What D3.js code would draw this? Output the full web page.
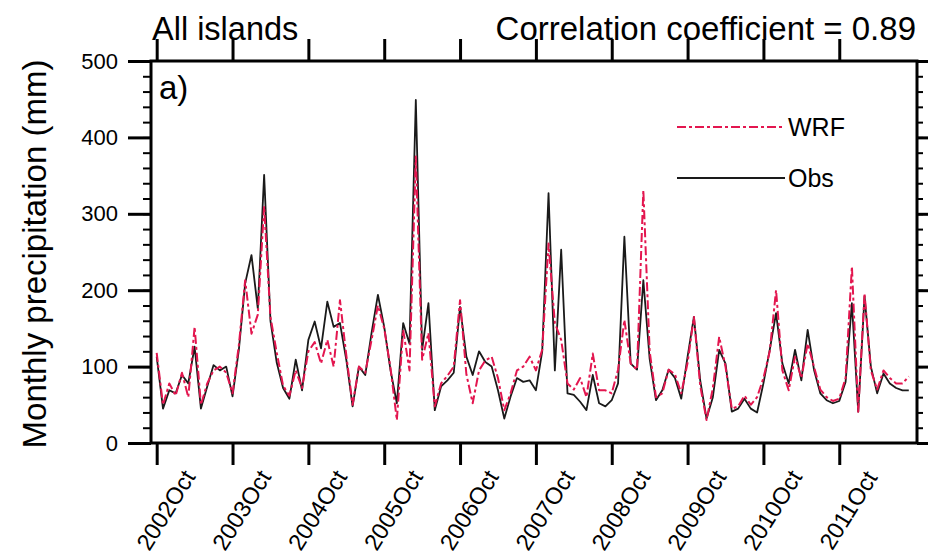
<!DOCTYPE html>
<html>
<head>
<meta charset="utf-8">
<script src="https://cdn.jsdelivr.net/npm/d3@7"></script>
<style>
  html, body { margin: 0; padding: 0; background: #fff; }
  svg { display: block; font-family: "Liberation Sans", Arial, Helvetica, sans-serif; }
</style>
</head>
<body>
<svg id="chart" width="937" height="558"></svg>
<script>
// Monthly precipitation (mm), all islands, Oct 2002 – Sep 2012
const obs = [
  113, 45, 69, 65, 89, 78, 126, 45, 74, 102, 95, 100,
  61, 122, 209, 246, 176, 351, 160, 105, 72, 58, 109, 69,
  135, 159, 124, 185, 152, 157, 109, 48, 100, 89, 144, 194,
  152, 95, 52, 157, 130, 449, 122, 183, 43, 74, 82, 92,
  178, 113, 89, 120, 106, 100, 69, 32, 61, 85, 80, 82,
  69, 120, 327, 95, 253, 65, 63, 54, 43, 89, 52, 48,
  56, 78, 270, 104, 96, 213, 110, 56, 69, 96, 85, 58,
  113, 165, 82, 32, 60, 122, 104, 41, 45, 58, 45, 40,
  78, 122, 170, 104, 78, 122, 82, 148, 96, 65, 56, 52,
  55, 80, 183, 41, 192, 100, 65, 91, 78, 72, 69, 69
];
const wrf = [
  118, 50, 78, 62, 92, 60, 152, 50, 78, 95, 100, 92,
  65, 128, 213, 143, 168, 310, 165, 118, 75, 62, 95, 72,
  120, 132, 104, 135, 100, 187, 115, 50, 100, 92, 135, 180,
  150, 98, 30, 148, 95, 375, 109, 144, 48, 78, 88, 100,
  187, 90, 52, 95, 108, 113, 85, 43, 65, 95, 100, 113,
  95, 122, 261, 157, 135, 78, 70, 85, 60, 117, 69, 69,
  65, 96, 161, 104, 96, 331, 120, 60, 65, 96, 90, 65,
  105, 165, 75, 30, 72, 139, 100, 45, 48, 62, 50, 60,
  85, 120, 200, 95, 69, 113, 85, 130, 100, 70, 60, 55,
  58, 85, 231, 41, 196, 95, 70, 95, 85, 78, 78, 87
];
// month index of each October, and its label
const xTickMonths = [0, 12, 24, 36, 48, 60, 72, 84, 96, 108];
const xTickLabels = ["2002Oct", "2003Oct", "2004Oct", "2005Oct", "2006Oct",
                     "2007Oct", "2008Oct", "2009Oct", "2010Oct", "2011Oct"];
const yMajorTicks = [0, 100, 200, 300, 400, 500];
const yMinorTicks = d3.range(0, 501, 20);
const seriesNames = ["WRF", "Obs"];
const leftTitle = "All islands";
const rightTitle = "Correlation coefficient = 0.89";
const yTitle = "Monthly precipitation (mm)";
const panelTag = "a)";

const box = { left: 151, right: 917, top: 61, bottom: 443 };
const RED = "#e3164f";

const svg = d3.select("#chart");

const x = d3.scaleLinear().domain([-0.9, 120.3]).range([box.left, box.right]);
const y = d3.scaleLinear().domain([0, 500]).range([box.bottom, box.top]);

// plot frame
svg.append("rect")
  .attr("x", box.left).attr("y", box.top)
  .attr("width", box.right - box.left).attr("height", box.bottom - box.top)
  .attr("fill", "none").attr("stroke", "#000").attr("stroke-width", 3);

function styleAxis(g, w) {
  g.select(".domain").remove();
  g.selectAll(".tick line").attr("stroke", "#000").attr("stroke-width", w);
}

// left axis: minor then major ticks with labels
svg.append("g").attr("transform", `translate(${box.left},0)`)
  .call(d3.axisLeft(y).tickValues(yMinorTicks).tickSize(8).tickFormat(""))
  .call(g => styleAxis(g, 2));
svg.append("g").attr("transform", `translate(${box.left},0)`)
  .call(d3.axisLeft(y).tickValues(yMajorTicks).tickSize(23).tickPadding(10).tickFormat(d3.format("d")))
  .call(g => styleAxis(g, 3))
  .call(g => g.selectAll("text").attr("font-size", 22).attr("fill", "#000")
    .attr("font-family", "Liberation Sans, Arial, sans-serif"));

// right axis ticks
svg.append("g").attr("transform", `translate(${box.right},0)`)
  .call(d3.axisRight(y).tickValues(yMinorTicks).tickSize(6).tickFormat(""))
  .call(g => styleAxis(g, 2));
svg.append("g").attr("transform", `translate(${box.right},0)`)
  .call(d3.axisRight(y).tickValues(yMajorTicks).tickSize(11).tickFormat(""))
  .call(g => styleAxis(g, 3));

// bottom and top axes
svg.append("g").attr("transform", `translate(0,${box.bottom})`)
  .call(d3.axisBottom(x).tickValues(xTickMonths).tickSize(22).tickFormat(""))
  .call(g => styleAxis(g, 3));
svg.append("g").attr("transform", `translate(0,${box.top})`)
  .call(d3.axisTop(x).tickValues(xTickMonths).tickSize(22).tickFormat(""))
  .call(g => styleAxis(g, 3));

// rotated year labels
svg.append("g").selectAll("text")
  .data(xTickMonths)
  .join("text")
  .attr("transform", d => `translate(${x(d) + 9},510) rotate(-58)`)
  .attr("text-anchor", "middle")
  .attr("dy", "0.35em")
  .attr("font-size", 23.5)
  .attr("fill", "#000")
  .text((d, i) => xTickLabels[i]);

// series lines
const line = d3.line().x((d, i) => x(i)).y(d => y(d));
svg.append("path").datum(obs)
  .attr("d", line).attr("fill", "none")
  .attr("stroke", "#1a1a1a").attr("stroke-width", 1.8).attr("stroke-linejoin", "round");
svg.append("path").datum(wrf)
  .attr("d", line).attr("fill", "none")
  .attr("stroke", RED).attr("stroke-width", 2).attr("stroke-dasharray", "9,3,3,3")
  .attr("stroke-linejoin", "round");

// legend
const legend = svg.append("g");
const legendRows = [
  { name: seriesNames[0], y: 127, color: RED, dash: "9,3,3,3", w: 2 },
  { name: seriesNames[1], y: 178, color: "#1a1a1a", dash: null, w: 1.8 }
];
legendRows.forEach(r => {
  legend.append("line")
    .attr("x1", 677).attr("x2", 785).attr("y1", r.y).attr("y2", r.y)
    .attr("stroke", r.color).attr("stroke-width", r.w)
    .attr("stroke-dasharray", r.dash);
  legend.append("text")
    .attr("x", 788).attr("y", r.y).attr("dy", "0.35em")
    .attr("font-size", 25).attr("fill", "#000").text(r.name);
});

// titles
svg.append("text").attr("x", 152).attr("y", 40)
  .attr("font-size", 32.5).attr("fill", "#000").text(leftTitle);
svg.append("text").attr("x", 916).attr("y", 40).attr("text-anchor", "end")
  .attr("font-size", 33).attr("fill", "#000").text(rightTitle);
svg.append("text").attr("x", 159).attr("y", 99)
  .attr("font-size", 33).attr("fill", "#000").text(panelTag);
svg.append("text")
  .attr("transform", `translate(46,${(box.top + box.bottom) / 2 + 2}) rotate(-90)`)
  .attr("text-anchor", "middle")
  .attr("font-size", 33).attr("fill", "#000").text(yTitle);
</script>
</body>
</html>
